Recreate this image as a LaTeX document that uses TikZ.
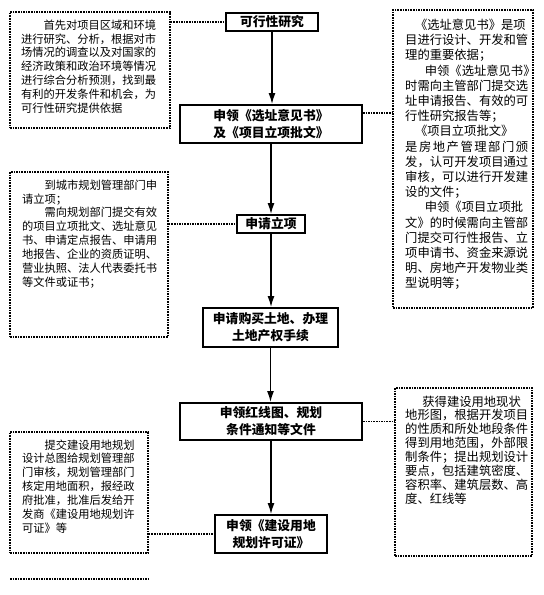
\documentclass[tikz,border=0pt]{standalone}
\usepackage{fontspec}
\newfontfamily\cjk{Noto Sans CJK SC}
\usetikzlibrary{arrows.meta,calc}
\begin{document}
\begin{tikzpicture}[x=1pt,y=-1pt,
  mainbox/.style={draw,line width=1.9pt,inner sep=0pt,align=center,
    font=\cjk\bfseries\fontsize{12.8}{17}\selectfont},
  notebox/.style={draw,line width=1.6pt,densely dotted,inner sep=0pt},
  notetext/.style={anchor=north west,inner sep=0pt,align=left},
  smalltext/.style={font=\cjk\fontsize{11.25}{13.9}\selectfont},
  bigtext/.style={font=\cjk\fontsize{12.3}{15.2}\selectfont},
  link/.style={line width=1.6pt,densely dotted},
  flow/.style={line width=1.4pt,-{Latex[length=11pt,width=7pt]}}]
\useasboundingbox (0,0) rectangle (544,595);

% main flow boxes
\node[mainbox,minimum width=92pt,minimum height=18pt] (A) at (272,22) {可行性研究};
\node[mainbox,minimum width=182pt,minimum height=38pt,align=left] (B) at (271,124) {申领《选址意见书》\\及《项目立项批文》};
\node[mainbox,minimum width=68pt,minimum height=18pt] (C) at (271,224) {申请立项};
\node[mainbox,minimum width=135pt,minimum height=39pt] (D) at (270.5,327.5) {申请购买土地、办理\\土地产权手续};
\node[mainbox,minimum width=182pt,minimum height=37pt] (E) at (271,421.5) {申领红线图、规划\\条件通知等文件};
\node[mainbox,minimum width=112pt,minimum height=38pt] (F) at (271,534) {申领《建设用地\\规划许可证》};

% note boxes
\node[notebox,minimum width=160pt,minimum height=116pt] (L1) at (90,70) {};
\node[notebox,minimum width=158pt,minimum height=165pt] (L2) at (89,254.5) {};
\node[notebox,minimum width=138pt,minimum height=121pt] (L3) at (79,492.5) {};
\node[notebox,minimum width=140pt,minimum height=298pt] (R1) at (463,159) {};
\node[notebox,minimum width=137pt,minimum height=168pt] (R2) at (463.5,472) {};

% note texts
\node[notetext,smalltext] (L1t) at (21,19.4) {\hspace*{2em}首先对项目区域和环境\\进行研究、分析，根据对市\\场情况的调查以及对国家的\\经济政策和政治环境等情况\\进行综合分析预测，找到最\\有利的开发条件和机会，为\\可行性研究提供依据};
\node[notetext,smalltext] (L2t) at (22,179.4) {\hspace*{2em}到城市规划管理部门申\\请立项；\\\hspace*{2em}需向规划部门提交有效\\的项目立项批文、选址意见\\书、申请定点报告、申请用\\地报告、企业的资质证明、\\营业执照、法人代表委托书\\等文件或证书；};
\node[notetext,smalltext] (L3t) at (22,439.3) {\hspace*{2em}提交建设用地规划\\设计总图给规划管理部\\门审核，规划管理部门\\核定用地面积，报经政\\府批准，批准后发给开\\发商《建设用地规划许\\可证》等};
\node[notetext,bigtext] (R1t) at (405,18.9) {\hspace*{0.8em}《选址意见书》是项\\目进行设计、开发和管\\理的重要依据；\\\hspace*{1.6em}申领《选址意见书》\\时需向主管部门提交选\\址申请报告、有效的可\\行性研究报告等；\\\hspace*{0.8em}《项目立项批文》\\\makebox[10em][s]{是\hfill 房\hfill 地\hfill 产\hfill 管\hfill 理\hfill 部\hfill 门\hfill 颁}\\发，认可开发项目通过\\审核，可以进行开发建\\设的文件；\\\hspace*{1.6em}申领《项目立项批\\文》的时候需向主管部\\门提交可行性报告、立\\项申请书、资金来源说\\明、房地产开发物业类\\型说明等；};
\node[notetext,font=\cjk\fontsize{12.3}{13.85}\selectfont] (R2t) at (405,395.5) {\hspace*{1.4em}获得建设用地现状\\地形图，根据开发项目\\的性质和所处地段条件\\得到用地范围，外部限\\制条件；提出规划设计\\要点，包括建筑密度、\\容积率、建筑层数、高\\度、红线等};

% flow arrows
\draw[flow] (A.south) -- (A.south |- B.north);
\draw[flow] (B.south) -- (B.south |- C.north);
\draw[flow] (C.south) -- (C.south |- D.north);
\draw[flow] (D.south) -- (D.south |- E.north);
\draw[flow] (E.south) -- (E.south |- F.north);

% dotted links
\draw[link] (L1.east |- A.west) -- (A.west);
\coordinate (Bk) at ($(B.north east)+(0,9)$);
\draw[link] (Bk) -- (Bk -| R1.west);
\draw[link] (L2.east |- C.west) -- (C.west);
\draw[link] (E.east) -- (E.east -| R2.west);
\draw[link] (L3.east |- F.west) -- (F.west);

% cut-off box edge at the bottom
\coordinate (Ba) at (10,579);
\coordinate (Bb) at (148,579);
\draw[link] (Ba) -- (Bb);
\end{tikzpicture}
\end{document}
